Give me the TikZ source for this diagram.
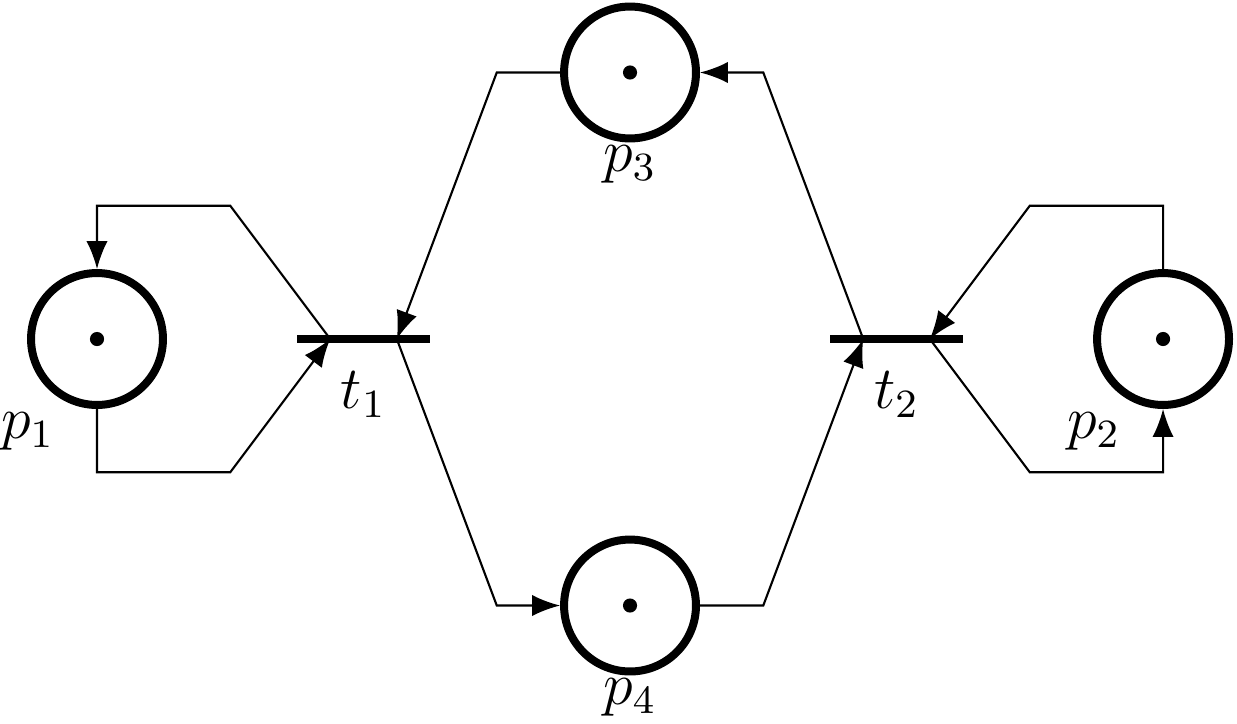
\documentclass[tikz,border=0pt]{standalone}
\usetikzlibrary{arrows.meta}
\begin{document}
\begin{tikzpicture}[x=1cm,y=1cm,
  place/.style={circle, draw, line width=0.06cm, minimum size=0.99cm, inner sep=0pt},
  transition/.style={rectangle, fill=black, draw=none, minimum width=1cm, minimum height=0.058cm, inner sep=0pt},
  arc/.style={line width=0.45pt, -{Latex[length=0.21cm,width=0.16cm]}},
  lbl/.style={font=\fontsize{12}{14}\selectfont, inner sep=0pt, scale=1.07, transform shape},
  tokendot/.style={fill=black}]
\useasboundingbox (-0.728,-2.882) rectangle (8.555,2.544);
% places
\node[place] (p1) at (0,0) {};
\node[place] (p2) at (8,0) {};
\node[place] (p3) at (4,2) {};
\node[place] (p4) at (4,-2) {};
\foreach \p in {p1,p2,p3,p4} \fill[tokendot] (\p) circle (0.053);
% transitions
\node[transition] (t1) at (2,0) {};
\node[transition] (t2) at (6,0) {};
\coordinate (t1a) at (1.75,0);
\coordinate (t1b) at (2.25,0);
\coordinate (t2a) at (5.75,0);
\coordinate (t2b) at (6.25,0);
% labels
\node[lbl] (lp1) at (-0.52,-0.69) {$p_1$};
\node[lbl] (lp2) at (7.48,-0.69) {$p_2$};
\node[lbl] (lp3) at (4,1.31) {$p_3$};
\node[lbl] (lp4) at (4,-2.69) {$p_4$};
\node[lbl] (lt1) at (2,-0.42) {$t_1$};
\node[lbl] (lt2) at (6,-0.42) {$t_2$};
% arcs
\draw[arc] (p1.south) -- (0,-1) -- (1,-1) -- (t1a);
\draw[arc] (t1a) -- (1,1) -- (0,1) -- (p1.north);
\draw[arc] (p3.west) -- (3,2) -- (t1b);
\draw[arc] (t1b) -- (3,-2) -- (p4.west);
\draw[arc] (p4.east) -- (5,-2) -- (t2a);
\draw[arc] (t2a) -- (5,2) -- (p3.east);
\draw[arc] (p2.north) -- (8,1) -- (7,1) -- (t2b);
\draw[arc] (t2b) -- (7,-1) -- (8,-1) -- (p2.south);
\end{tikzpicture}
\end{document}
